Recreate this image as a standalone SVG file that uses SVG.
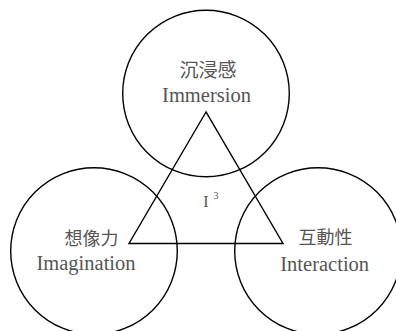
<svg xmlns="http://www.w3.org/2000/svg" width="396" height="331" viewBox="0 0 396 331">
<style>
.c{fill:none;stroke:#000;stroke-width:1.4}
.cjk{fill:#555;text-anchor:middle}
.en{font-size:20.5px;fill:#555;text-anchor:middle}
</style>
<rect width="396" height="331" fill="#fff"/>
<g id="immersion">
<circle class="c" cx="206" cy="93.5" r="83.3"/>
<text class="cjk" x="208" y="76.5" font-size="19" font-family="Noto Sans CJK SC, Noto Sans CJK JP, sans-serif">沉浸感</text>
<text class="en" x="206.5" y="101.7" font-family="Liberation Serif, Times New Roman, serif">Immersion</text>
</g>
<g id="imagination">
<circle class="c" cx="94" cy="251" r="83.3"/>
<text class="cjk" x="91.5" y="244.5" font-size="18" font-family="Noto Sans CJK SC, Noto Sans CJK JP, sans-serif">想像力</text>
<text class="en" x="86" y="270" font-family="Liberation Serif, Times New Roman, serif">Imagination</text>
</g>
<g id="interaction">
<circle class="c" cx="318" cy="251" r="83.3"/>
<text class="cjk" x="325.5" y="243.5" font-size="18" font-family="Noto Sans CJK SC, Noto Sans CJK JP, sans-serif">互動性</text>
<text class="en" x="324.7" y="270.7" font-family="Liberation Serif, Times New Roman, serif">Interaction</text>
</g>
<g id="connectors">
<polygon class="c" points="206,112 129,243.5 283,243.5"/>
</g>
<g id="i3">
<text x="206" y="207" font-family="Liberation Serif, serif" font-size="16" fill="#555" text-anchor="middle">I</text>
<text x="216" y="198.5" font-family="Liberation Serif, serif" font-size="10" fill="#555" text-anchor="middle">3</text>
</g>
</svg>
